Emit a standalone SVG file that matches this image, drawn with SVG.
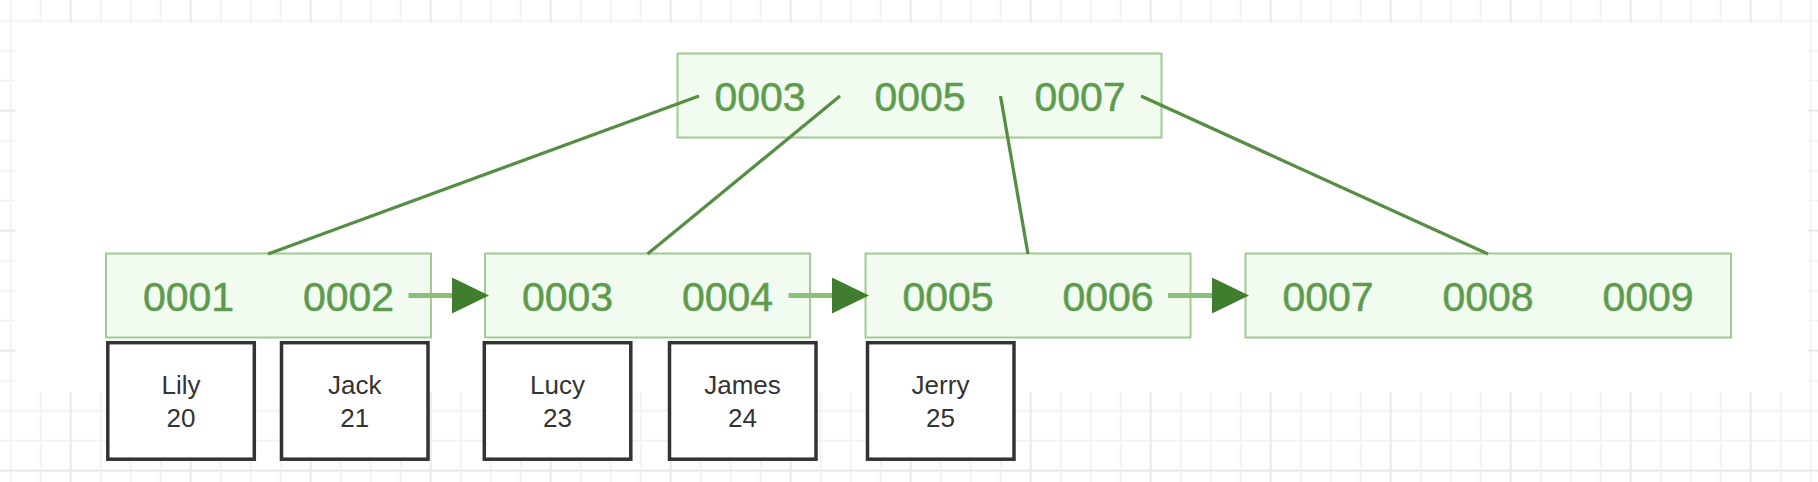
<svg xmlns="http://www.w3.org/2000/svg" width="1818" height="482" viewBox="0 0 1818 482">
  <defs>
    <pattern id="grid" x="55.7" y="95.7" width="120" height="120" patternUnits="userSpaceOnUse">
      <path d="M45 0V120M75 0V120M105 0V120M0 45H120M0 75H120M0 105H120" stroke="#f3f3f3" stroke-width="2" fill="none"/>
      <path d="M15 0V120M0 15H120" stroke="#e9e9e9" stroke-width="2" fill="none"/>
    </pattern>
    <marker id="head" viewBox="0 0 37 36" refX="0" refY="18" markerWidth="37" markerHeight="36" markerUnits="userSpaceOnUse" orient="auto">
      <path d="M0 0L37 18L0 36Z" fill="#417d2e"/>
    </marker>
    <style>
      .key { fill: #f2fbef; stroke: #a0cc91; stroke-width: 2; }
      .keytxt { font-family: "Liberation Sans", Arial, Helvetica, sans-serif; font-size: 41px; fill: #5c9a4c; stroke: #6aa45a; stroke-width: 0.6; text-anchor: middle; }
      .data { fill: #ffffff; stroke: #333333; stroke-width: 3.5; }
      .datatxt { font-family: "Liberation Sans", Arial, Helvetica, sans-serif; font-size: 26px; fill: #333333; text-anchor: middle; }
      .tree { stroke: #568f44; stroke-width: 3.3; fill: none; }
      .link { stroke: #8dbe7c; stroke-width: 5; fill: none; marker-end: url(#head); }
    </style>
  </defs>

  <rect x="0" y="0" width="1818" height="482" fill="#ffffff"/>
  <rect x="0" y="0" width="1818" height="482" fill="url(#grid)"/>
  <rect x="15" y="23" width="1793" height="369" fill="#ffffff"/>

  <g id="root">
    <rect class="key" x="677.5" y="53.5" width="484" height="84"/>
    <text class="keytxt" x="760" y="111">0003</text>
    <text class="keytxt" x="920" y="111">0005</text>
    <text class="keytxt" x="1080" y="111">0007</text>
  </g>

  <g id="leaf1">
    <rect class="key" x="106" y="253.5" width="325" height="84"/>
    <text class="keytxt" x="188.5" y="310.5">0001</text>
    <text class="keytxt" x="348.5" y="310.5">0002</text>
  </g>
  <g id="leaf2">
    <rect class="key" x="485" y="253.5" width="325" height="84"/>
    <text class="keytxt" x="567.5" y="310.5">0003</text>
    <text class="keytxt" x="727.5" y="310.5">0004</text>
  </g>
  <g id="leaf3">
    <rect class="key" x="865.5" y="253.5" width="325" height="84"/>
    <text class="keytxt" x="948" y="310.5">0005</text>
    <text class="keytxt" x="1108" y="310.5">0006</text>
  </g>
  <g id="leaf4">
    <rect class="key" x="1245.5" y="253.5" width="485.5" height="84"/>
    <text class="keytxt" x="1328" y="310.5">0007</text>
    <text class="keytxt" x="1488" y="310.5">0008</text>
    <text class="keytxt" x="1648" y="310.5">0009</text>
  </g>

  <g id="row-lily">
    <rect class="data" x="107.8" y="342.7" width="146.5" height="116.5"/>
    <text class="datatxt" x="181" y="394.3">Lily</text>
    <text class="datatxt" x="181" y="426.7">20</text>
  </g>
  <g id="row-jack">
    <rect class="data" x="281.5" y="342.7" width="146.5" height="116.5"/>
    <text class="datatxt" x="354.8" y="394.3">Jack</text>
    <text class="datatxt" x="354.8" y="426.7">21</text>
  </g>
  <g id="row-lucy">
    <rect class="data" x="484.3" y="342.7" width="146.5" height="116.5"/>
    <text class="datatxt" x="557.5" y="394.3">Lucy</text>
    <text class="datatxt" x="557.5" y="426.7">23</text>
  </g>
  <g id="row-james">
    <rect class="data" x="669.5" y="342.7" width="146.5" height="116.5"/>
    <text class="datatxt" x="742.5" y="394.3">James</text>
    <text class="datatxt" x="742.5" y="426.7">24</text>
  </g>
  <g id="row-jerry">
    <rect class="data" x="867.5" y="342.7" width="146.5" height="116.5"/>
    <text class="datatxt" x="940.5" y="394.3">Jerry</text>
    <text class="datatxt" x="940.5" y="426.7">25</text>
  </g>

  <g id="connectors">
    <line class="tree" x1="699" y1="96" x2="268" y2="254"/>
    <line class="tree" x1="840" y1="96" x2="647.5" y2="254"/>
    <line class="tree" x1="1000.5" y1="96" x2="1028" y2="254"/>
    <line class="tree" x1="1141" y1="96" x2="1488" y2="254"/>
    <line class="link" x1="408.5" y1="295.5" x2="452" y2="295.5"/>
    <line class="link" x1="788.5" y1="295.5" x2="832" y2="295.5"/>
    <line class="link" x1="1168" y1="295.5" x2="1212" y2="295.5"/>
  </g>
</svg>
